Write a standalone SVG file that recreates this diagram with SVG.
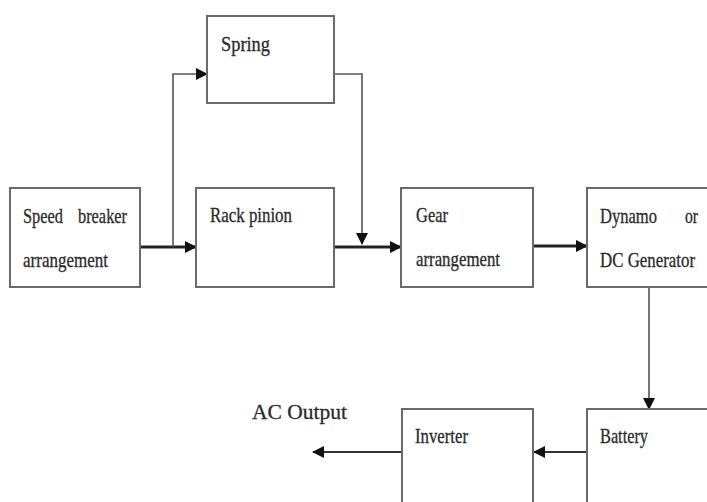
<svg xmlns="http://www.w3.org/2000/svg" width="707" height="502" viewBox="0 0 707 502">
<defs>
<style>
.box{fill:#fff;stroke:#6a6a6a;stroke-width:2}
.t{font-family:"Liberation Serif","Times New Roman",serif;font-size:21px;fill:#2a2a2a;stroke:#2a2a2a;stroke-width:0.3}
.thick{fill:none;stroke:#222;stroke-width:3}
.thin{fill:none;stroke:#555;stroke-width:1.6}
.mid{fill:none;stroke:#333;stroke-width:2.2}
</style>
<marker id="ah" markerUnits="userSpaceOnUse" markerWidth="12" markerHeight="12" viewBox="0 0 12 12" refX="11" refY="6" orient="auto">
<path d="M0,0 L12,6 L0,12 Z" fill="#111"/>
</marker>
</defs>
<rect width="707" height="502" fill="#fff"/>
<g id="connectors">
<path class="thick" d="M140,247 H196" marker-end="url(#ah)"/>
<path class="thin" d="M173,247 V74 H207" marker-end="url(#ah)"/>
<path class="thin" d="M334,74 H362 V244" marker-end="url(#ah)"/>
<path class="thick" d="M334,247 H401" marker-end="url(#ah)"/>
<path class="thick" d="M533,246 H587" marker-end="url(#ah)"/>
<path class="thin" d="M649,287 V409" marker-end="url(#ah)"/>
<path class="mid" d="M587,452 H534" marker-end="url(#ah)"/>
<path class="mid" d="M402,452 H313" marker-end="url(#ah)"/>
</g>
<g id="spring">
<rect class="box" x="207" y="16" width="127" height="87"/>
<text class="t" x="221" y="51" textLength="49" lengthAdjust="spacingAndGlyphs">Spring</text>
</g>
<g id="speed-breaker">
<rect class="box" x="10" y="188" width="130" height="99"/>
<text class="t" x="23" y="223" textLength="40" lengthAdjust="spacingAndGlyphs">Speed</text>
<text class="t" x="78" y="223" textLength="49" lengthAdjust="spacingAndGlyphs">breaker</text>
<text class="t" x="23" y="267" textLength="85" lengthAdjust="spacingAndGlyphs">arrangement</text>
</g>
<g id="rack-pinion">
<rect class="box" x="196" y="188" width="138" height="99"/>
<text class="t" x="210" y="222" textLength="82" lengthAdjust="spacingAndGlyphs">Rack pinion</text>
</g>
<g id="gear">
<rect class="box" x="401" y="188" width="132" height="99"/>
<text class="t" x="416" y="222" textLength="32" lengthAdjust="spacingAndGlyphs">Gear</text>
<text class="t" x="416" y="266" textLength="84" lengthAdjust="spacingAndGlyphs">arrangement</text>
</g>
<g id="dynamo">
<rect class="box" x="587" y="188" width="130" height="99"/>
<text class="t" x="600" y="223" textLength="57" lengthAdjust="spacingAndGlyphs">Dynamo</text>
<text class="t" x="685" y="223" textLength="13" lengthAdjust="spacingAndGlyphs">or</text>
<text class="t" x="600" y="267" textLength="95" lengthAdjust="spacingAndGlyphs">DC Generator</text>
</g>
<g id="battery">
<rect class="box" x="587" y="409" width="130" height="100"/>
<text class="t" x="600" y="443" textLength="48" lengthAdjust="spacingAndGlyphs">Battery</text>
</g>
<g id="inverter">
<rect class="box" x="402" y="409" width="131" height="100"/>
<text class="t" x="415" y="443" textLength="53" lengthAdjust="spacingAndGlyphs">Inverter</text>
</g>
<g id="ac-output">
<text class="t" x="252" y="419" style="font-size:22px" textLength="95" lengthAdjust="spacingAndGlyphs">AC Output</text>
</g>
</svg>
